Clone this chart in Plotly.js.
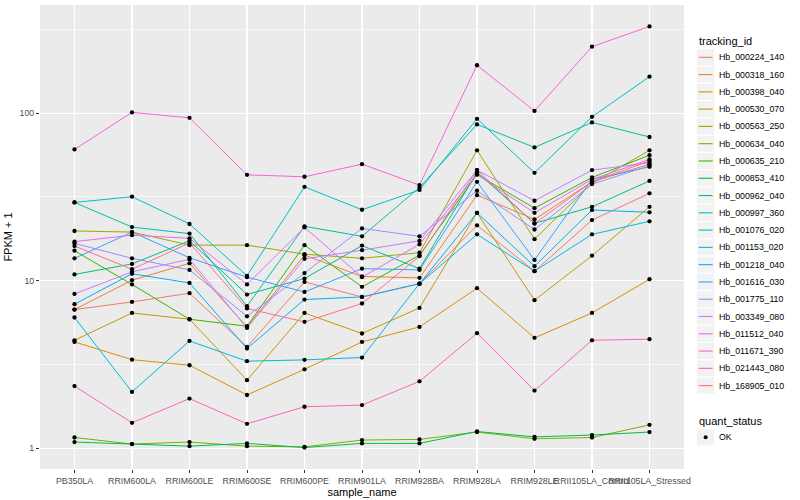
<!DOCTYPE html>
<html>
<head>
<meta charset="utf-8">
<script src="https://cdn.plot.ly/plotly-3.0.1.min.js"></script>
<style>
  html, body { margin: 0; padding: 0; background: #ffffff; }
  #chart { width: 800px; height: 500px; }
</style>
</head>
<body>
<div id="chart"></div>
<script>
// ---- data ----
const sampleNames = ['PB350LA', 'RRIM600LA', 'RRIM600LE', 'RRIM600SE', 'RRIM600PE', 'RRIM901LA',
  'RRIM928BA', 'RRIM928LA', 'RRIM928LE', 'RRII105LA_Control', 'RRII105LA_Stressed'];

const trackingIds = ['Hb_000224_140', 'Hb_000318_160', 'Hb_000398_040', 'Hb_000530_070', 'Hb_000563_250',
  'Hb_000634_040', 'Hb_000635_210', 'Hb_000853_410', 'Hb_000962_040', 'Hb_000997_360',
  'Hb_001076_020', 'Hb_001153_020', 'Hb_001218_040', 'Hb_001616_030', 'Hb_001775_110',
  'Hb_003349_080', 'Hb_011512_040', 'Hb_011671_390', 'Hb_021443_080', 'Hb_168905_010'];

// FPKM + 1 per sample (order of sampleNames)
const hb_000224_140 = [6.73, 7.47, 8.42, 4.03, 9.84, 8.0, 9.6, 21.4, 11.4, 23.0, 33.2];
const hb_000318_160 = [6.73, 10.07, 12.7, 5.3, 14.2, 10.6, 10.4, 32.4, 23.2, 38.9, 49.6];
const hb_000398_040 = [4.31, 3.38, 3.13, 2.08, 2.96, 4.31, 5.30, 9.02, 4.56, 6.42, 10.2];
const hb_000530_070 = [4.41, 6.42, 5.89, 2.55, 6.42, 4.84, 6.88, 25.4, 7.65, 14.1, 27.6];
const hb_000563_250 = [19.8, 19.5, 16.3, 16.3, 14.4, 13.6, 14.7, 60.0, 17.7, 38.0, 60.0];
const hb_000634_040 = [1.16, 1.06, 1.09, 1.03, 1.02, 1.12, 1.13, 1.25, 1.14, 1.16, 1.38];
const hb_000635_210 = [15.1, 9.5, 5.89, 5.35, 16.3, 9.19, 14.2, 43.0, 27.1, 41.3, 56.1];
const hb_000853_410 = [1.09, 1.06, 1.03, 1.07, 1.01, 1.07, 1.07, 1.26, 1.17, 1.20, 1.25];
const hb_000962_040 = [10.9, 12.6, 17.3, 8.27, 10.3, 16.2, 11.8, 44.3, 22.0, 27.6, 39.4];
const hb_000997_360 = [29.3, 20.9, 19.1, 7.05, 21.1, 18.4, 36.0, 85.6, 62.4, 88.0, 72.0];
const hb_001076_020 = [29.3, 31.7, 21.8, 10.7, 36.3, 26.5, 34.8, 92.5, 44.0, 95.0, 165];
const hb_001153_020 = [6.03, 2.17, 4.37, 3.31, 3.37, 3.48, 9.6, 18.9, 11.4, 18.9, 22.6];
const hb_001218_040 = [7.24, 11.0, 9.7, 3.94, 7.72, 8.0, 9.6, 25.4, 12.2, 26.4, 25.6];
const hb_001616_030 = [13.6, 19.5, 13.7, 10.5, 8.57, 11.8, 11.6, 38.9, 13.3, 40.2, 47.8];
const hb_001775_110 = [16.7, 13.6, 11.6, 6.13, 11.1, 20.5, 18.4, 34.4, 20.2, 37.7, 48.5];
const hb_003349_080 = [8.34, 11.3, 13.4, 5.23, 13.5, 15.2, 17.3, 45.7, 30.0, 45.7, 50.5];
const hb_011512_040 = [17.1, 18.7, 17.9, 9.5, 20.8, 10.5, 16.5, 43.0, 25.4, 40.2, 52.9];
const hb_011671_390 = [60.7, 101, 93.7, 42.8, 41.7, 49.6, 37.2, 193, 103, 249, 329];
const hb_021443_080 = [2.35, 1.42, 1.98, 1.40, 1.77, 1.81, 2.51, 4.86, 2.21, 4.41, 4.48];
const hb_168905_010 = [16.1, 11.7, 16.8, 6.83, 5.68, 7.31, 14.0, 45.7, 21.9, 38.9, 51.9];

const quantStatus = ['OK'];
const yTickValues = [1, 10, 100];
const yTickLabels = ['1', '10', '100'];

const seriesValues = [hb_000224_140, hb_000318_160, hb_000398_040, hb_000530_070, hb_000563_250,
  hb_000634_040, hb_000635_210, hb_000853_410, hb_000962_040, hb_000997_360,
  hb_001076_020, hb_001153_020, hb_001218_040, hb_001616_030, hb_001775_110,
  hb_003349_080, hb_011512_040, hb_011671_390, hb_021443_080, hb_168905_010];

// ---- styles (ggplot2 default hue palette for 20 levels) ----
const huePalette = ['#F8766D', '#EA8331', '#D89000', '#C09B00', '#A3A500', '#7CAE00', '#39B600',
  '#00BB4E', '#00BF7D', '#00C1A3', '#00BFC4', '#00BAE0', '#00B0F6', '#35A2FF', '#9590FF',
  '#C77CFF', '#E76BF3', '#FA62DB', '#FF62BC', '#FF6C91'];

const FONT = 'Liberation Sans, Arial, Helvetica, sans-serif';
const W = 800, H = 500;
const M = {l: 40, r: 116, t: 5, b: 31};
const PX0 = M.l, PX1 = W - M.r, PY0 = M.t, PY1 = H - M.b;
const px2paperX = px => (px - PX0) / (PX1 - PX0);
const px2paperY = py => (PY1 - py) / (PY1 - PY0);

// ---- traces ----
const traces = trackingIds.map((id, i) => ({
  type: 'scatter', mode: 'lines', name: id,
  x: sampleNames, y: seriesValues[i],
  line: {color: huePalette[i], width: 1},
  showlegend: false, hoverinfo: 'x+y+name'
}));

const allX = [], allY = [];
seriesValues.forEach(vals => vals.forEach((v, j) => { allX.push(sampleNames[j]); allY.push(v); }));
traces.push({
  type: 'scatter', mode: 'markers', name: quantStatus[0],
  x: allX, y: allY,
  marker: {color: '#000000', size: 4.3, symbol: 'circle'},
  showlegend: false, hoverinfo: 'x+y'
});

// ---- manual ggplot-style legends ----
const shapes = [];
const annotations = [];
const legX = 697, keyW = 17.28, keyH = 17.28;
const firstKeyY = 57.3;

annotations.push({
  xref: 'paper', yref: 'paper', x: px2paperX(legX - 0.5), y: px2paperY(40.7),
  xanchor: 'left', yanchor: 'middle', showarrow: false,
  text: 'tracking_id', font: {family: FONT, size: 11, color: '#000000'}
});
trackingIds.forEach((id, i) => {
  const cy = firstKeyY + i * keyH;
  shapes.push({
    type: 'rect', xref: 'paper', yref: 'paper', layer: 'above',
    x0: px2paperX(legX), x1: px2paperX(legX + keyW),
    y0: px2paperY(cy - keyH / 2 + 0.6), y1: px2paperY(cy + keyH / 2 - 0.6),
    fillcolor: '#F2F2F2', line: {width: 0}
  });
  shapes.push({
    type: 'line', xref: 'paper', yref: 'paper', layer: 'above',
    x0: px2paperX(legX + 1.7), x1: px2paperX(legX + keyW - 1.7),
    y0: px2paperY(cy), y1: px2paperY(cy),
    line: {color: huePalette[i], width: 1.1}
  });
  annotations.push({
    xref: 'paper', yref: 'paper', x: px2paperX(legX + keyW + 2.5), y: px2paperY(cy),
    xanchor: 'left', yanchor: 'middle', showarrow: false,
    text: id, font: {family: FONT, size: 8.8, color: '#000000'}
  });
});

const qsTitleY = 420.7, qsKeyY = 437.3;
annotations.push({
  xref: 'paper', yref: 'paper', x: px2paperX(legX - 0.5), y: px2paperY(qsTitleY),
  xanchor: 'left', yanchor: 'middle', showarrow: false,
  text: 'quant_status', font: {family: FONT, size: 11, color: '#000000'}
});
quantStatus.forEach((s, i) => {
  const cy = qsKeyY + i * keyH;
  shapes.push({
    type: 'rect', xref: 'paper', yref: 'paper', layer: 'above',
    x0: px2paperX(legX), x1: px2paperX(legX + keyW),
    y0: px2paperY(cy - keyH / 2 + 0.6), y1: px2paperY(cy + keyH / 2 - 0.6),
    fillcolor: '#F2F2F2', line: {width: 0}
  });
  shapes.push({
    type: 'circle', xref: 'paper', yref: 'paper', layer: 'above',
    x0: px2paperX(legX + keyW / 2 - 2), x1: px2paperX(legX + keyW / 2 + 2),
    y0: px2paperY(cy - 2), y1: px2paperY(cy + 2),
    fillcolor: '#000000', line: {width: 0}
  });
  annotations.push({
    xref: 'paper', yref: 'paper', x: px2paperX(legX + keyW + 2.5), y: px2paperY(cy),
    xanchor: 'left', yanchor: 'middle', showarrow: false,
    text: s, font: {family: FONT, size: 8.8, color: '#000000'}
  });
});

const layout = {
  width: W, height: H,
  margin: M,
  paper_bgcolor: '#FFFFFF',
  plot_bgcolor: '#EBEBEB',
  font: {family: FONT, size: 11, color: '#000000'},
  showlegend: false,
  xaxis: {
    type: 'category', categoryorder: 'array', categoryarray: sampleNames,
    range: [-0.6, sampleNames.length - 1 + 0.6],
    showgrid: true, gridcolor: '#FFFFFF', gridwidth: 1.1,
    zeroline: false, showline: false,
    ticks: 'outside', ticklen: 3, tickwidth: 1, tickcolor: '#333333',
    tickfont: {family: FONT, size: 8.8, color: '#4D4D4D'},
    tickangle: 0,
    title: {text: 'sample_name', font: {family: FONT, size: 11, color: '#000000'}, standoff: 3},
    fixedrange: true
  },
  yaxis: {
    type: 'log',
    range: [-0.1235, 2.645],
    tickmode: 'array', tickvals: yTickValues, ticktext: yTickLabels,
    showgrid: true, gridcolor: '#FFFFFF', gridwidth: 1.1,
    minor: {tickmode: 'array', tickvals: [3.1623, 31.623, 316.23], showgrid: true,
            gridcolor: '#FFFFFF', gridwidth: 0.55, ticks: ''},
    zeroline: false, showline: false,
    ticks: 'outside', ticklen: 3, tickwidth: 1, tickcolor: '#333333',
    tickfont: {family: FONT, size: 8.8, color: '#4D4D4D'},
    title: {text: 'FPKM + 1', font: {family: FONT, size: 11, color: '#000000'}, standoff: 4},
    fixedrange: true
  },
  shapes: shapes,
  annotations: annotations
};

Plotly.newPlot('chart', traces, layout, {displayModeBar: false, staticPlot: true});
</script>
</body>
</html>
